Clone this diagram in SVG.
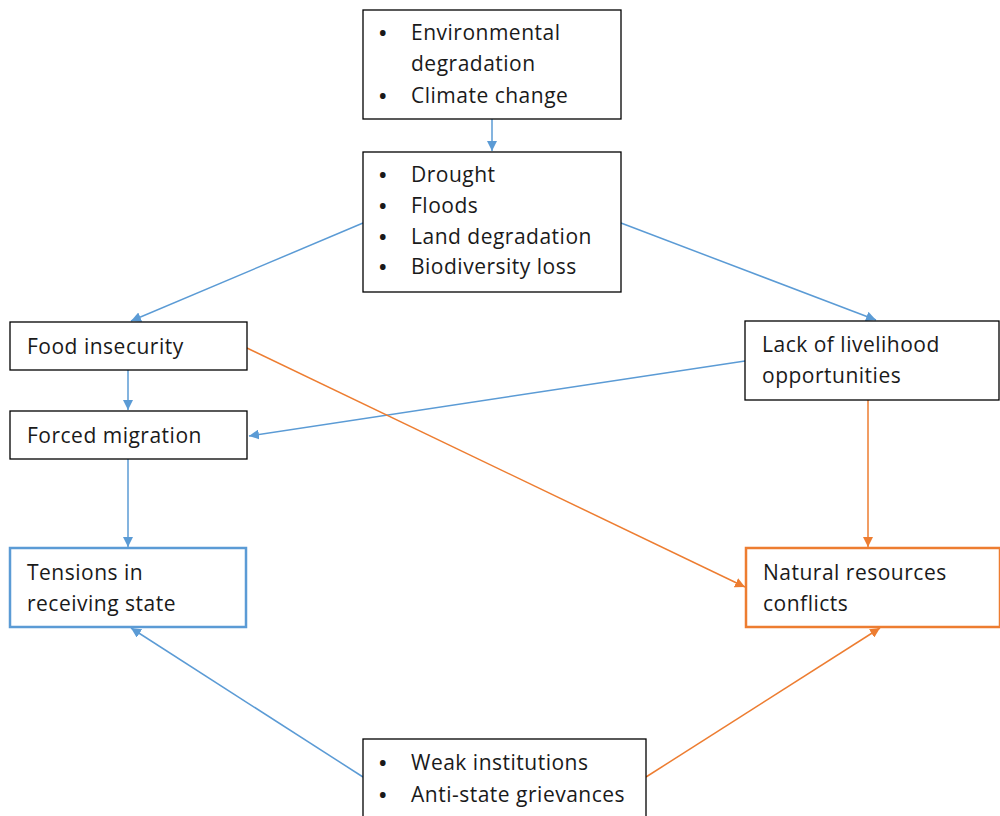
<svg xmlns="http://www.w3.org/2000/svg" width="1000" height="816" viewBox="0 0 1000 816">
<defs>
<marker id="ab" viewBox="0 0 10 10" refX="10" refY="5" markerWidth="10" markerHeight="10" markerUnits="userSpaceOnUse" orient="auto"><path d="M0,0 L10,5 L0,10 z" fill="#5B9BD5"/></marker>
<marker id="ao" viewBox="0 0 10 10" refX="10" refY="5" markerWidth="10" markerHeight="10" markerUnits="userSpaceOnUse" orient="auto"><path d="M0,0 L10,5 L0,10 z" fill="#ED7D31"/></marker>
<style>
.box{fill:#fff;stroke:#000;stroke-width:1.3}
.bb{fill:#fff;stroke:#5B9BD5;stroke-width:2.5}
.ob{fill:#fff;stroke:#ED7D31;stroke-width:2.5}
text{font-family:"Open Sans",Lato,sans-serif;font-size:21px;letter-spacing:0.5px;fill:#1a1a1a}
.bu{font-size:20px;font-weight:bold}
.cb{stroke:#5B9BD5;stroke-width:1.5;fill:none;marker-end:url(#ab)}
.co{stroke:#ED7D31;stroke-width:1.5;fill:none;marker-end:url(#ao)}
</style>
</defs>
<rect width="1000" height="816" fill="#fff"/>
<g id="connectors">
<line class="cb" x1="492" y1="119" x2="492" y2="151"/>
<line class="cb" x1="363" y1="223" x2="131" y2="321"/>
<line class="cb" x1="621" y1="223" x2="876" y2="320"/>
<line class="cb" x1="128" y1="370" x2="128" y2="410"/>
<line class="cb" x1="745" y1="361" x2="249" y2="436"/>
<line class="co" x1="247" y1="348" x2="745" y2="587"/>
<line class="co" x1="868" y1="400" x2="868" y2="547"/>
<line class="cb" x1="128" y1="459" x2="128" y2="547"/>
<line class="cb" x1="363" y1="777" x2="131" y2="628"/>
<line class="co" x1="646" y1="777" x2="880" y2="628"/>
</g>
<g id="n1"><rect class="box" x="363" y="10" width="258" height="109"/>
<text class="bu" x="379" y="40">•</text><text x="411" y="40">Environmental</text><text x="411" y="71">degradation</text>
<text class="bu" x="379" y="103">•</text><text x="411" y="103">Climate change</text></g>
<g id="n2"><rect class="box" x="363" y="152" width="258" height="140"/>
<text class="bu" x="379" y="182">•</text><text x="411" y="182">Drought</text>
<text class="bu" x="379" y="213">•</text><text x="411" y="213">Floods</text>
<text class="bu" x="379" y="244">•</text><text x="411" y="244">Land degradation</text>
<text class="bu" x="379" y="274">•</text><text x="411" y="274">Biodiversity loss</text></g>
<g id="n3"><rect class="box" x="10" y="322" width="237" height="48"/><text x="27" y="354">Food insecurity</text></g>
<g id="n4"><rect class="box" x="10" y="411" width="237" height="48"/><text x="27" y="443">Forced migration</text></g>
<g id="n5"><rect class="box" x="745" y="321" width="254" height="79"/><text x="762" y="352">Lack of livelihood</text><text x="762" y="383">opportunities</text></g>
<g id="n6"><rect class="bb" x="10" y="548" width="236" height="79"/><text x="27" y="580">Tensions in</text><text x="27" y="611">receiving state</text></g>
<g id="n7"><rect class="ob" x="746" y="548" width="254" height="79"/><text x="763" y="580">Natural resources</text><text x="763" y="611">conflicts</text></g>
<g id="n8"><rect class="box" x="363" y="739" width="283" height="90"/>
<text class="bu" x="379" y="770">•</text><text x="411" y="770">Weak institutions</text>
<text class="bu" x="379" y="802">•</text><text x="411" y="802">Anti-state grievances</text></g>
</svg>
